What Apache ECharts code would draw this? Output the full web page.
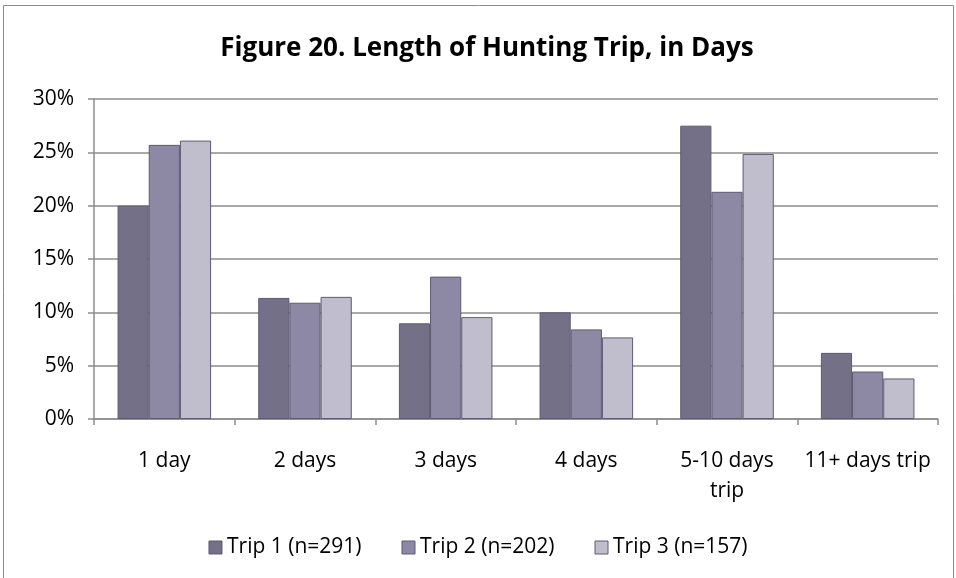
<!DOCTYPE html>
<html>
<head>
<meta charset="utf-8">
<script src="https://cdn.jsdelivr.net/npm/echarts@6/dist/echarts.min.js"></script>
<style>
html,body{margin:0;padding:0;background:#fff;}
#chart{width:956px;height:578px;}
</style>
</head>
<body>
<div id="chart"></div>
<script>
const categories = ['1 day', '2 days', '3 days', '4 days', '5-10 days trip', '11+ days trip'];
const trip1 = [20.0, 11.35, 8.97, 10.0, 27.5, 6.2];
const trip2 = [25.7, 10.9, 13.35, 8.4, 21.3, 4.45];
const trip3 = [26.1, 11.45, 9.55, 7.65, 24.85, 3.8];
const seriesNames = ['Trip 1 (n=291)', 'Trip 2 (n=202)', 'Trip 3 (n=157)'];
const yTicks = [0, 5, 10, 15, 20, 25, 30];

const font = 'Open Sans, Noto Sans, sans-serif';
const colors = ['#747087', '#8d89a4', '#c0becd'];
const chart = echarts.init(document.getElementById('chart'));

function mk(name, data, color) {
  return {
    name: name, type: 'bar', data: data,
    barGap: '0%', barCategoryGap: '33.5%',
    itemStyle: { color: color, borderColor: '#5e5a72', borderWidth: 1 }
  };
}

chart.setOption({
  animation: false,
  textStyle: { fontFamily: font },
  graphic: [{
    type: 'rect', shape: { x: 3.5, y: 5.5, width: 950, height: 590 },
    style: { fill: 'none', stroke: '#8a8a8a', lineWidth: 1 }, silent: true
  }],
  title: {
    text: 'Figure 20. Length of Hunting Trip, in Days',
    left: 482, top: 31, textAlign: 'center',
    textStyle: { fontFamily: font, fontWeight: 'bold', fontSize: 26, color: '#000' }
  },
  legend: {
    bottom: 15, left: 'center', itemWidth: 13, itemHeight: 13, itemGap: 40,
    icon: 'rect',
    itemStyle: { borderColor: '#5e5a72', borderWidth: 1 },
    textStyle: { fontFamily: font, fontSize: 21, color: '#000' },
    data: seriesNames
  },
  grid: { left: 94, right: 18, top: 99, bottom: 159, containLabel: false },
  xAxis: {
    type: 'category', data: categories,
    axisLine: { lineStyle: { color: '#8c8c8c', width: 1.5 } },
    axisTick: { show: true, length: 6, lineStyle: { color: '#8c8c8c', width: 1.5 } },
    axisLabel: {
      color: '#000', fontSize: 21, margin: 27, interval: 0, fontFamily: font, lineHeight: 30,
      formatter: v => v === '5-10 days trip' ? '5-10 days\ntrip' : v
    }
  },
  yAxis: {
    type: 'value', min: 0, max: 30, interval: 5,
    axisLine: { show: true, lineStyle: { color: '#8c8c8c', width: 1.5 } },
    axisTick: { show: true, length: 6, lineStyle: { color: '#8c8c8c', width: 1.5 } },
    splitLine: { lineStyle: { color: '#8c8c8c', width: 1.5 } },
    axisLabel: {
      color: '#000', fontSize: 21, margin: 20, fontFamily: font,
      formatter: v => yTicks.includes(v) ? v + '%' : ''
    }
  },
  series: [
    mk(seriesNames[0], trip1, colors[0]),
    mk(seriesNames[1], trip2, colors[1]),
    mk(seriesNames[2], trip3, colors[2])
  ]
});
</script>
</body>
</html>
